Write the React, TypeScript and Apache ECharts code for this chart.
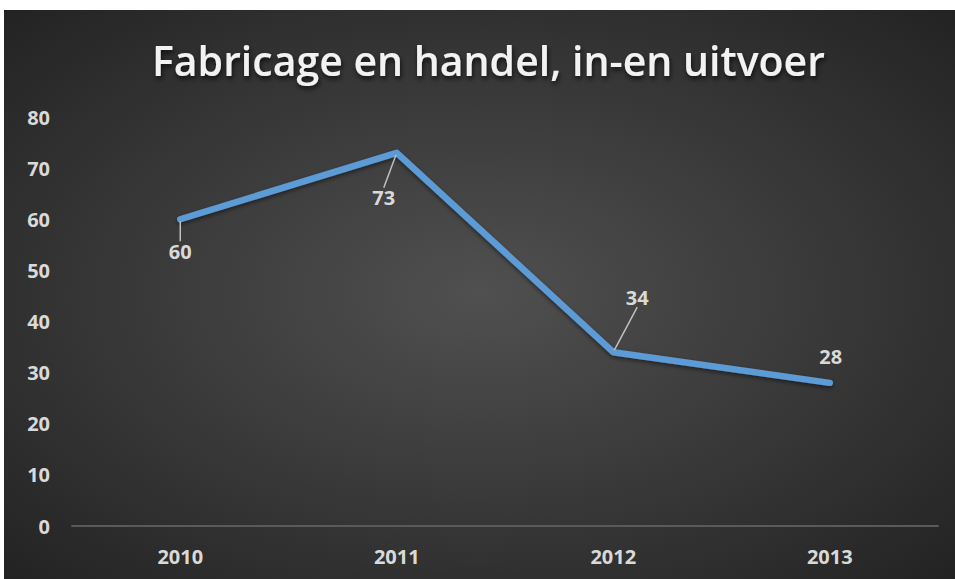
import React, { useEffect, useRef } from "react";
import * as echarts from "echarts";

const titleText = "Fabricage en handel, in-en uitvoer";
const categories = ["2010", "2011", "2012", "2013"];
const values = [60, 73, 34, 28];
const showLeader = [true, true, true, false];
const yTicks = { min: 0, max: 80, interval: 10 };
// label offsets (dx, dy) per point, relative to the point itself
const labelShifts: [number, number][] = [
  [0, 32],
  [-13, 45],
  [24, -55],
  [1, -26],
];

export default function App() {
  const ref = useRef<HTMLDivElement>(null);
  useEffect(() => {
    if (!ref.current) return;
    const chart = echarts.init(ref.current, null, { renderer: "svg" });
    chart.setOption({
      animation: false,
      backgroundColor: new echarts.graphic.RadialGradient(0.5, 0.5, 0.75, [
        { offset: 0, color: "#505050" },
        { offset: 1, color: "#202020" },
      ]),
      title: {
        text: titleText,
        left: 143,
        top: 24,
        textStyle: {
          color: "#f2f2f2",
          fontFamily: "Open Sans",
          fontWeight: 600,
          fontSize: 41,
          textShadowColor: "rgba(0,0,0,0.7)",
          textShadowBlur: 5,
          textShadowOffsetX: 1,
          textShadowOffsetY: 3,
        },
      },
      grid: { left: 68, top: 107, width: 866, height: 409, containLabel: false },
      xAxis: {
        type: "category",
        data: categories,
        boundaryGap: true,
        axisLine: { show: true, lineStyle: { color: "#5a5a5a", width: 2 } },
        axisTick: { show: false },
        axisLabel: {
          color: "#d9d9d9",
          fontFamily: "Open Sans",
          fontWeight: "bold",
          fontSize: 20,
          margin: 20,
        },
        splitLine: { show: false },
      },
      yAxis: {
        type: "value",
        min: yTicks.min,
        max: yTicks.max,
        interval: yTicks.interval,
        axisLine: { show: false },
        axisTick: { show: false },
        splitLine: { show: false },
        axisLabel: {
          color: "#d9d9d9",
          fontFamily: "Open Sans",
          fontWeight: "bold",
          fontSize: 20,
          margin: 22,
        },
      },
      series: [
        {
          type: "line",
          data: values.map((v, i) => ({
            value: v,
            labelLine: { show: showLeader[i] },
          })),
          symbol: "circle",
          symbolSize: 4,
          itemStyle: { color: "#5b9bd5" },
          lineStyle: {
            color: "#5b9bd5",
            width: 6.5,
            cap: "round",
            join: "round",
            shadowColor: "rgba(0,0,0,0.5)",
            shadowBlur: 4,
            shadowOffsetY: 2,
          },
          label: {
            show: true,
            position: "inside",
            color: "#d9d9d9",
            fontFamily: "Open Sans",
            fontWeight: "bold",
            fontSize: 20,
          },
          labelLine: {
            show: true,
            lineStyle: { color: "#bfbfbf", width: 1.5 },
          },
          labelLayout: (p: any) => {
            const s = labelShifts[p.dataIndex] || [0, 0];
            return { dx: s[0], dy: s[1] };
          },
        },
      ],
    });
    return () => chart.dispose();
  }, []);
  return (
    <div
      ref={ref}
      style={{ position: "absolute", left: 4, top: 10, width: 951, height: 569 }}
    />
  );
}
